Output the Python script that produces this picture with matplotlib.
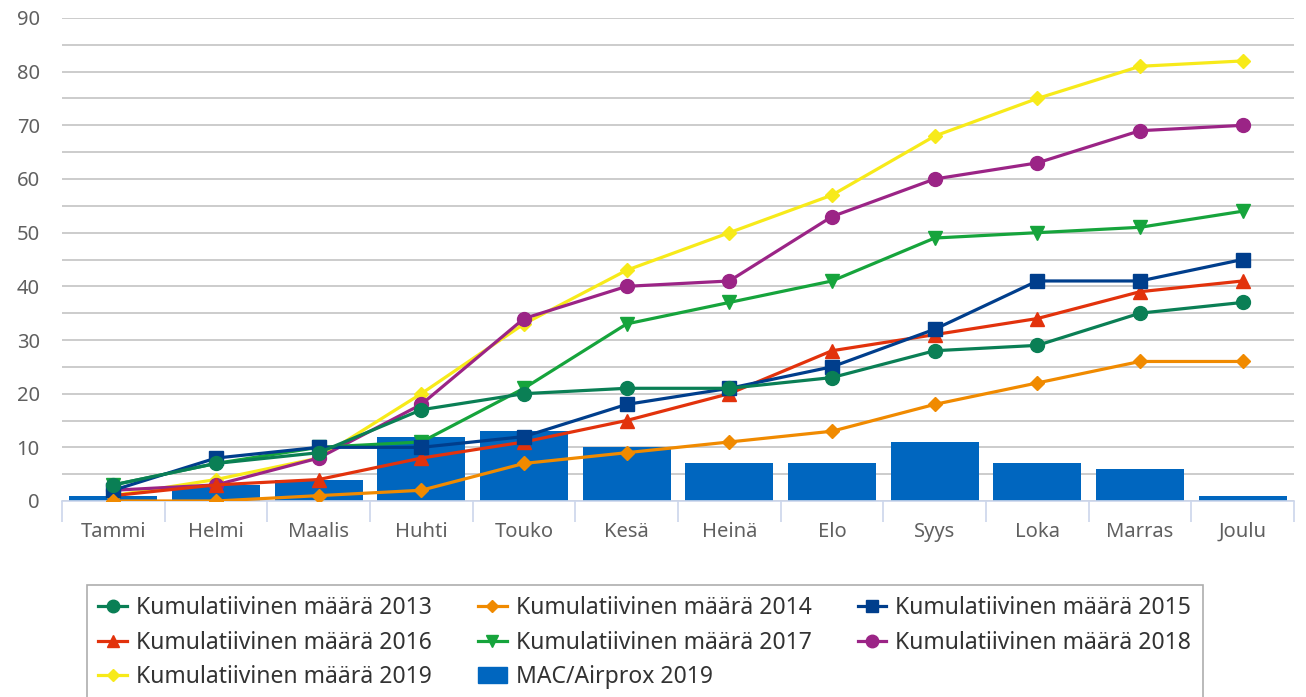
import numpy as np
import matplotlib
matplotlib.use('Agg')
import matplotlib.pyplot as plt
from matplotlib.lines import Line2D
from matplotlib.patches import Patch

# Data
months = ['Tammi', 'Helmi', 'Maalis', 'Huhti', 'Touko', 'Kesä',
          'Heinä', 'Elo', 'Syys', 'Loka', 'Marras', 'Joulu']
kum_2013 = [3, 7, 9, 17, 20, 21, 21, 23, 28, 29, 35, 37]
kum_2014 = [0, 0, 1, 2, 7, 9, 11, 13, 18, 22, 26, 26]
kum_2015 = [2, 8, 10, 10, 12, 18, 21, 25, 32, 41, 41, 45]
kum_2016 = [1, 3, 4, 8, 11, 15, 20, 28, 31, 34, 39, 41]
kum_2017 = [3, 7, 10, 11, 21, 33, 37, 41, 49, 50, 51, 54]
kum_2018 = [2, 3, 8, 18, 34, 40, 41, 53, 60, 63, 69, 70]
kum_2019 = [1, 4, 8, 20, 33, 43, 50, 57, 68, 75, 81, 82]
mac_2019 = [1, 3, 4, 12, 13, 10, 7, 7, 11, 7, 6, 1]

plt.rcParams['font.family'] = ['Noto Sans', 'DejaVu Sans']

fig = plt.figure(figsize=(13.06, 6.97), dpi=100)
ax = fig.add_axes([62/1306, 1 - 501/697, 1232/1306, 483/697])

x = np.arange(len(months))
ax.bar(x, mac_2019, width=0.86, color='#0066bf', zorder=2)

series = [
    ('Kumulatiivinen määrä 2013', kum_2013, '#0a7f55', 'o', 10),
    ('Kumulatiivinen määrä 2014', kum_2014, '#f08a00', 'D', 7),
    ('Kumulatiivinen määrä 2015', kum_2015, '#003e8c', 's', 10),
    ('Kumulatiivinen määrä 2016', kum_2016, '#e2320c', '^', 10),
    ('Kumulatiivinen määrä 2017', kum_2017, '#16a43c', 'v', 10),
    ('Kumulatiivinen määrä 2018', kum_2018, '#9b2486', 'o', 10),
    ('Kumulatiivinen määrä 2019', kum_2019, '#f7ea1a', 'D', 7),
]
handles = {}
for i, (name, vals, col, mk, ms) in enumerate(series):
    ax.plot(x, vals, color=col, lw=2.3, marker=mk, markersize=ms, zorder=20 - i)
    handles[name] = Line2D([], [], color=col, lw=2.3, marker=mk, markersize=ms * 0.9)
handles['MAC/Airprox 2019'] = Patch(color='#0066bf')

ax.set_xlim(-0.5, 11.5)
ax.set_ylim(0, 90)
ax.set_yticks(np.arange(0, 91, 10))
ax.set_yticks(np.arange(5, 90, 10), minor=True)
ax.yaxis.grid(True, which='both', color='#c8c8c8', lw=1.3, zorder=0)
ax.set_xticks(x)
ax.set_xticklabels(months)
ax.set_xticks(np.arange(-0.5, 12, 1), minor=True)
ax.tick_params(axis='x', which='major', length=0, pad=15, labelsize=14.5, labelcolor='#606060')
ax.tick_params(axis='x', which='minor', length=15, color='#ccd6eb', width=1.2)
ax.tick_params(axis='y', which='both', length=0, pad=16, labelsize=14.5, labelcolor='#606060')
for s in ['top', 'right', 'left']:
    ax.spines[s].set_visible(False)
ax.spines['bottom'].set_color('#ccd6eb')
ax.spines['bottom'].set_linewidth(1.2)
ax.set_axisbelow(True)

order = ['Kumulatiivinen määrä 2013', 'Kumulatiivinen määrä 2016', 'Kumulatiivinen määrä 2019',
         'Kumulatiivinen määrä 2014', 'Kumulatiivinen määrä 2017', 'MAC/Airprox 2019',
         'Kumulatiivinen määrä 2015', 'Kumulatiivinen määrä 2018']
leg = fig.legend([handles[k] for k in order], order, ncol=3, loc='upper left',
                 bbox_to_anchor=(87/1306, 1 - 585/697), fontsize=16.5,
                 frameon=True, fancybox=False, edgecolor='#999999',
                 handlelength=1.25, columnspacing=2.0, labelspacing=0.45,
                 borderpad=0.5, handletextpad=0.4, borderaxespad=0)
leg.get_frame().set_linewidth(1.2)
for t in leg.get_texts():
    t.set_color('#333333')

fig.savefig('out.png', dpi=100)
